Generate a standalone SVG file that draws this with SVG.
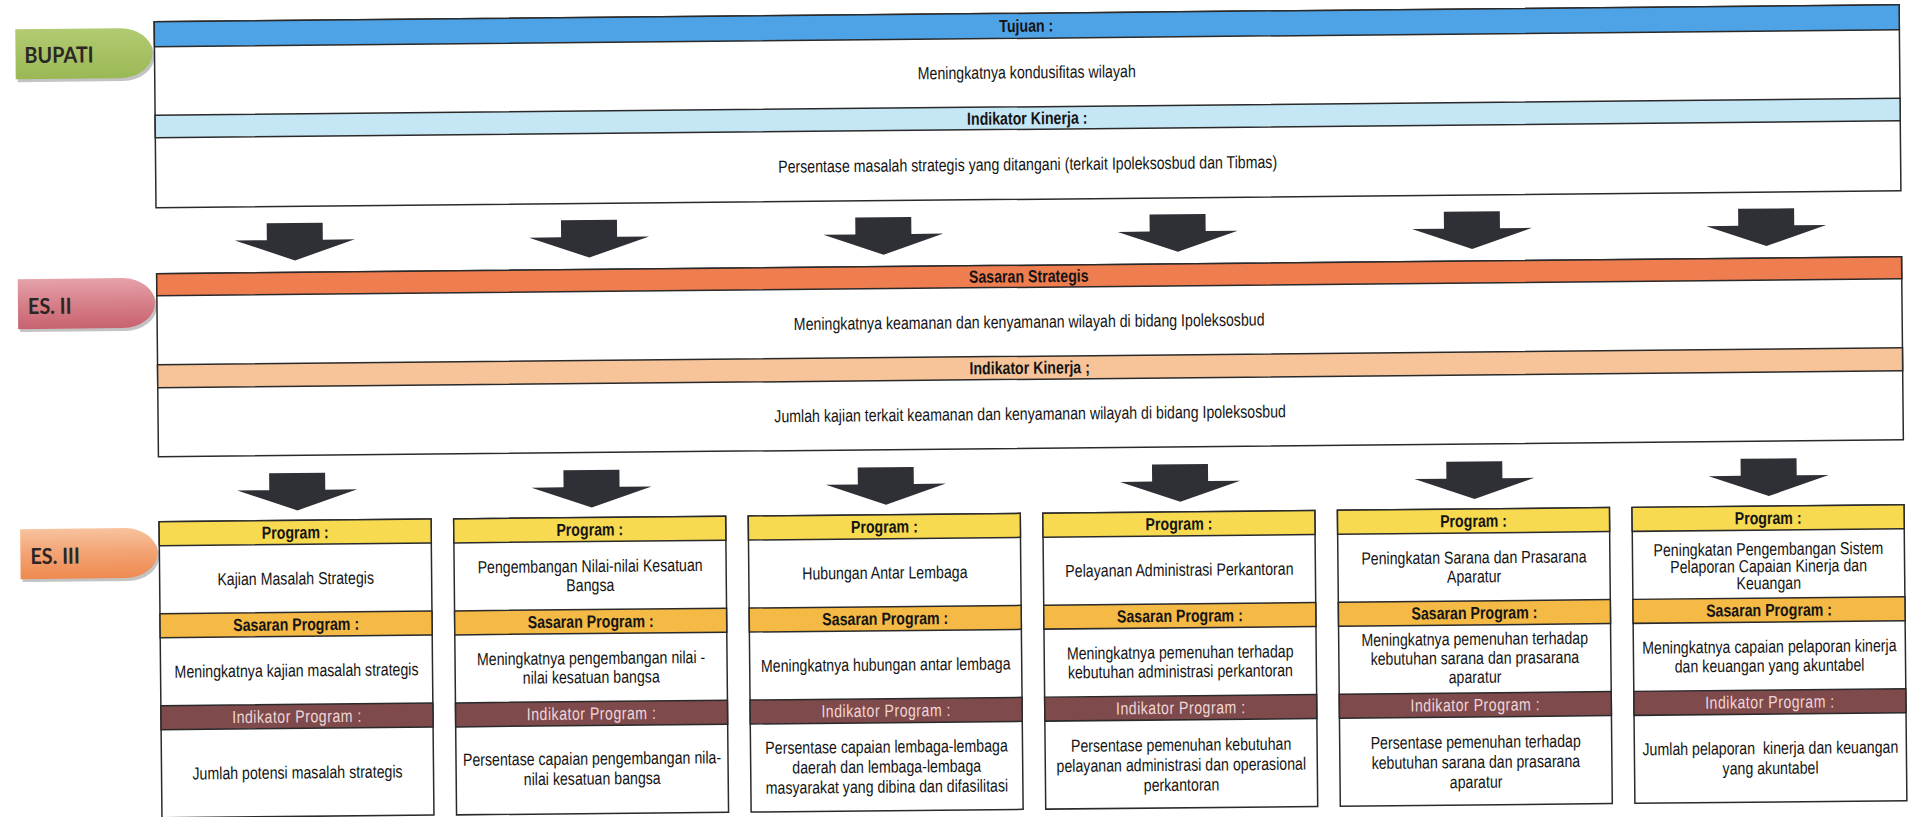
<svg xmlns="http://www.w3.org/2000/svg" width="1909" height="817" viewBox="0 0 1909 817">
<style>
.bx{fill:#fff;stroke:#2a2a2a;stroke-width:1.5}
.bar{stroke:#2a2a2a;stroke-width:1.5}
.blue{fill:#4ea2e6}
.lblue{fill:#c4e6f5}
.orange{fill:#ee7d4f}
.peach{fill:#f7c49a}
.yel{fill:#f7da50}
.sas{fill:#f5b945}
.mar{fill:#7e4a4c}
.t{font-family:"Liberation Sans",Arial,sans-serif;font-size:17.5px;text-anchor:middle;fill:#141414}
.h{font-weight:700}
.ind{fill:#f0d6d6;letter-spacing:0.6px}
.tag{font-family:Lato,"Liberation Sans",sans-serif;font-weight:700;font-size:22px;fill:#2a2626}
.arr{fill:#2e3035}
.shd{fill:#7a7a7a;opacity:.45}
</style>
<defs>
<path id="tagShape" d="M0 0H105A32 25 0 0 1 105 50H0Z"/>
<path id="arrow" d="M-28 0H28V17H60L0 37.5L-60 17H-28Z"/>
<linearGradient id="gGreen" x1="0" y1="0" x2="0" y2="1"><stop offset="0" stop-color="#b2cb72"/><stop offset="1" stop-color="#9bb855"/></linearGradient>
<linearGradient id="gPink" x1="0" y1="0" x2="0" y2="1"><stop offset="0" stop-color="#e6a2aa"/><stop offset="0.5" stop-color="#d6808a"/><stop offset="1" stop-color="#c8626f"/></linearGradient>
<linearGradient id="gOrange" x1="0" y1="0" x2="0" y2="1"><stop offset="0" stop-color="#f7c39e"/><stop offset="0.5" stop-color="#f3a272"/><stop offset="1" stop-color="#ee8a50"/></linearGradient>
</defs>
<rect x="0" y="0" width="1909" height="817" fill="#ffffff"/>
<g id="diagram" transform="rotate(-0.56 954 408)">

<g id="tag-bupati">
<use href="#tagShape" x="21" y="23" class="shd"/>
<use href="#tagShape" x="19" y="20" fill="url(#gGreen)"/>
<text class="tag" transform="matrix(.9 0 0 1 28 54)">BUPATI</text>
</g>
<g id="tag-es2">
<use href="#tagShape" x="21" y="273" class="shd"/>
<use href="#tagShape" x="19" y="270" fill="url(#gPink)"/>
<text class="tag" transform="matrix(.9 0 0 1 29 305)">ES. II</text>
</g>
<g id="tag-es3">
<use href="#tagShape" x="21" y="523" class="shd"/>
<use href="#tagShape" x="19" y="520" fill="url(#gOrange)"/>
<text class="tag" transform="matrix(.9 0 0 1 29 555)">ES. III</text>
</g>

<g id="tujuan">
<rect class="bx" x="158" y="14" width="1745" height="186"/>
<rect class="bar blue" x="158" y="14" width="1745" height="25"/>
<rect class="bar lblue" x="158" y="107.5" width="1745" height="22.5"/>
<text class="t h" transform="matrix(.81 0 0 1 1030 32.5)">Tujuan :</text>
<text class="t" transform="matrix(.81 0 0 1 1030 79)">Meningkatnya kondusifitas wilayah</text>
<text class="t h" transform="matrix(.81 0 0 1 1030 125)">Indikator Kinerja :</text>
<text class="t" transform="matrix(.81 0 0 1 1030 171)">Persentase masalah strategis yang ditangani (terkait Ipoleksosbud dan Tibmas)</text>
</g>

<g id="sasaran-strategis">
<rect class="bx" x="158" y="266" width="1745" height="183"/>
<rect class="bar orange" x="158" y="266" width="1745" height="22"/>
<rect class="bar peach" x="158" y="357" width="1745" height="23"/>
<text class="t h" transform="matrix(.81 0 0 1 1030 283)">Sasaran Strategis</text>
<text class="t" transform="matrix(.81 0 0 1 1030 328.5)">Meningkatnya keamanan dan kenyamanan wilayah di bidang Ipoleksosbud</text>
<text class="t h" transform="matrix(.81 0 0 1 1030 374.5)">Indikator Kinerja ;</text>
<text class="t" transform="matrix(.81 0 0 1 1030 420.5)">Jumlah kajian terkait keamanan dan kenyamanan wilayah di bidang Ipoleksosbud</text>
</g>

<g id="program-1">
<rect class="bx" x="158" y="514" width="272" height="296"/>
<rect class="bar yel" x="158" y="514" width="272" height="24"/>
<rect class="bar sas" x="158" y="606" width="272" height="24"/>
<rect class="bar mar" x="158" y="698" width="272" height="24"/>
<text class="t h" transform="matrix(.81 0 0 1 294 532)">Program :</text>
<text class="t" transform="matrix(.81 0 0 1 294 578)">Kajian Masalah Strategis</text>
<text class="t h" transform="matrix(.81 0 0 1 294 624)">Sasaran Program :</text>
<text class="t" transform="matrix(.81 0 0 1 294 670)">Meningkatnya kajian masalah strategis</text>
<text class="t ind" transform="matrix(.81 0 0 1 294 716)">Indikator Program :</text>
<text class="t" transform="matrix(.81 0 0 1 294 772)">Jumlah potensi masalah strategis</text>
</g>

<g id="program-2">
<rect class="bx" x="452.6" y="514" width="272" height="296"/>
<rect class="bar yel" x="452.6" y="514" width="272" height="24"/>
<rect class="bar sas" x="452.6" y="606" width="272" height="24"/>
<rect class="bar mar" x="452.6" y="698" width="272" height="24"/>
<text class="t h" transform="matrix(.81 0 0 1 588.6 532)">Program :</text>
<text class="t" transform="matrix(.81 0 0 1 588.6 0)"><tspan x="0" y="568.5">Pengembangan Nilai-nilai Kesatuan</tspan><tspan x="0" y="587.5">Bangsa</tspan></text>
<text class="t h" transform="matrix(.81 0 0 1 588.6 624)">Sasaran Program :</text>
<text class="t" transform="matrix(.81 0 0 1 588.6 0)"><tspan x="0" y="660.5">Meningkatnya pengembangan nilai -</tspan><tspan x="0" y="679.5">nilai kesatuan bangsa</tspan></text>
<text class="t ind" transform="matrix(.81 0 0 1 588.6 716)">Indikator Program :</text>
<text class="t" transform="matrix(.81 0 0 1 588.6 0)"><tspan x="0" y="761">Persentase capaian pengembangan nila-</tspan><tspan x="0" y="781">nilai kesatuan bangsa</tspan></text>
</g>

<g id="program-3">
<rect class="bx" x="747.2" y="514" width="272" height="296"/>
<rect class="bar yel" x="747.2" y="514" width="272" height="24"/>
<rect class="bar sas" x="747.2" y="606" width="272" height="24"/>
<rect class="bar mar" x="747.2" y="698" width="272" height="24"/>
<text class="t h" transform="matrix(.81 0 0 1 883.2 532)">Program :</text>
<text class="t" transform="matrix(.81 0 0 1 883.2 578)">Hubungan Antar Lembaga</text>
<text class="t h" transform="matrix(.81 0 0 1 883.2 624)">Sasaran Program :</text>
<text class="t" transform="matrix(.81 0 0 1 883.2 670)">Meningkatnya hubungan antar lembaga</text>
<text class="t ind" transform="matrix(.81 0 0 1 883.2 716)">Indikator Program :</text>
<text class="t" transform="matrix(.81 0 0 1 883.2 0)"><tspan x="0" y="752">Persentase capaian lembaga-lembaga</tspan><tspan x="0" y="772">daerah dan lembaga-lembaga</tspan><tspan x="0" y="792">masyarakat yang dibina dan difasilitasi</tspan></text>
</g>

<g id="program-4">
<rect class="bx" x="1041.8" y="514" width="272" height="296"/>
<rect class="bar yel" x="1041.8" y="514" width="272" height="24"/>
<rect class="bar sas" x="1041.8" y="606" width="272" height="24"/>
<rect class="bar mar" x="1041.8" y="698" width="272" height="24"/>
<text class="t h" transform="matrix(.81 0 0 1 1177.8 532)">Program :</text>
<text class="t" transform="matrix(.81 0 0 1 1177.8 578)">Pelayanan Administrasi Perkantoran</text>
<text class="t h" transform="matrix(.81 0 0 1 1177.8 624)">Sasaran Program :</text>
<text class="t" transform="matrix(.81 0 0 1 1177.8 0)"><tspan x="0" y="660.5">Meningkatnya pemenuhan terhadap</tspan><tspan x="0" y="679.5">kebutuhan administrasi perkantoran</tspan></text>
<text class="t ind" transform="matrix(.81 0 0 1 1177.8 716)">Indikator Program :</text>
<text class="t" transform="matrix(.81 0 0 1 1177.8 0)"><tspan x="0" y="753">Persentase pemenuhan kebutuhan</tspan><tspan x="0" y="773">pelayanan administrasi dan operasional</tspan><tspan x="0" y="793">perkantoran</tspan></text>
</g>

<g id="program-5">
<rect class="bx" x="1336.4" y="514" width="272" height="296"/>
<rect class="bar yel" x="1336.4" y="514" width="272" height="24"/>
<rect class="bar sas" x="1336.4" y="606" width="272" height="24"/>
<rect class="bar mar" x="1336.4" y="698" width="272" height="24"/>
<text class="t h" transform="matrix(.81 0 0 1 1472.4 532)">Program :</text>
<text class="t" transform="matrix(.81 0 0 1 1472.4 0)"><tspan x="0" y="568.5">Peningkatan Sarana dan Prasarana</tspan><tspan x="0" y="587.5">Aparatur</tspan></text>
<text class="t h" transform="matrix(.81 0 0 1 1472.4 624)">Sasaran Program :</text>
<text class="t" transform="matrix(.81 0 0 1 1472.4 0)"><tspan x="0" y="650">Meningkatnya pemenuhan terhadap</tspan><tspan x="0" y="669">kebutuhan sarana dan prasarana</tspan><tspan x="0" y="688">aparatur</tspan></text>
<text class="t ind" transform="matrix(.81 0 0 1 1472.4 716)">Indikator Program :</text>
<text class="t" transform="matrix(.81 0 0 1 1472.4 0)"><tspan x="0" y="753">Persentase pemenuhan terhadap</tspan><tspan x="0" y="773">kebutuhan sarana dan prasarana</tspan><tspan x="0" y="793">aparatur</tspan></text>
</g>

<g id="program-6">
<rect class="bx" x="1631" y="514" width="272" height="296"/>
<rect class="bar yel" x="1631" y="514" width="272" height="24"/>
<rect class="bar sas" x="1631" y="606" width="272" height="24"/>
<rect class="bar mar" x="1631" y="698" width="272" height="24"/>
<text class="t h" transform="matrix(.81 0 0 1 1767 532)">Program :</text>
<text class="t" transform="matrix(.81 0 0 1 1767 0)"><tspan x="0" y="563">Peningkatan Pengembangan Sistem</tspan><tspan x="0" y="580">Pelaporan Capaian Kinerja dan</tspan><tspan x="0" y="597">Keuangan</tspan></text>
<text class="t h" transform="matrix(.81 0 0 1 1767 624)">Sasaran Program :</text>
<text class="t" transform="matrix(.81 0 0 1 1767 0)"><tspan x="0" y="660.5">Meningkatnya capaian pelaporan kinerja</tspan><tspan x="0" y="679.5">dan keuangan yang akuntabel</tspan></text>
<text class="t ind" transform="matrix(.81 0 0 1 1767 716)">Indikator Program :</text>
<text class="t" transform="matrix(.81 0 0 1 1767 0)" xml:space="preserve"><tspan x="0" y="762">Jumlah pelaporan  kinerja dan keuangan</tspan><tspan x="0" y="782">yang akuntabel</tspan></text>
</g>

<g id="connectors">
<use href="#arrow" class="arr" x="296.5" y="216.5"/>
<use href="#arrow" class="arr" x="590.8" y="216.5"/>
<use href="#arrow" class="arr" x="885.1" y="216.5"/>
<use href="#arrow" class="arr" x="1179.4" y="216.5"/>
<use href="#arrow" class="arr" x="1473.7" y="216.5"/>
<use href="#arrow" class="arr" x="1768" y="216.5"/>
<use href="#arrow" class="arr" x="296.5" y="466.5"/>
<use href="#arrow" class="arr" x="590.8" y="466.5"/>
<use href="#arrow" class="arr" x="885.1" y="466.5"/>
<use href="#arrow" class="arr" x="1179.4" y="466.5"/>
<use href="#arrow" class="arr" x="1473.7" y="466.5"/>
<use href="#arrow" class="arr" x="1768" y="466.5"/>
</g>
</g>
</svg>
